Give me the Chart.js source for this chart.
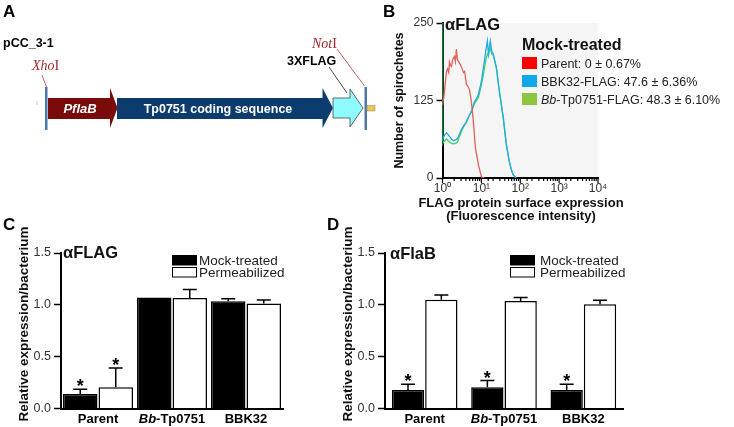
<!DOCTYPE html>
<html><head><meta charset="utf-8">
<script src="https://cdn.jsdelivr.net/npm/chart.js@4.4.0/dist/chart.umd.min.js"></script>
<style>
html,body{margin:0;padding:0;background:#fff;}
#wrap{position:relative;width:734px;height:427px;overflow:hidden;}
canvas{position:absolute;}
svg{position:absolute;left:0;top:0;}
</style></head><body>
<div id="wrap">
<canvas id="cB" width="351" height="227" style="left:383px;top:0px;width:351px;height:227px"></canvas>
<canvas id="cC" width="300" height="217" style="left:0px;top:210px;width:300px;height:217px"></canvas>
<canvas id="cD" width="307" height="217" style="left:327px;top:210px;width:307px;height:217px"></canvas>
<svg width="734" height="427" font-family="'Liberation Sans', Arial, sans-serif">
  <!-- panel letters -->
  <text x="3" y="17" font-size="17" font-weight="bold">A</text>
  <text x="383" y="17" font-size="17" font-weight="bold">B</text>
  <text x="3" y="230" font-size="17" font-weight="bold">C</text>
  <text x="327" y="230" font-size="17" font-weight="bold">D</text>
  <!-- panel A construct diagram -->
  <text x="3" y="47" font-size="12.5" font-weight="bold">pCC_3-1</text>
  <text x="32" y="70" font-family="'Liberation Serif','Times New Roman',serif" font-size="14" fill="#a3282b"><tspan font-style="italic">Xho</tspan>I</text>
  <line x1="42" y1="75" x2="46.5" y2="87" stroke="#b03a3a" stroke-width="0.8"/>
  <line x1="37" y1="101" x2="37" y2="105" stroke="#ccc" stroke-width="1"/>
  <rect x="45" y="87" width="2.5" height="43" fill="#4a78aa"/>
  <polygon points="48,98 110,98 110,88 117.5,108 110,128 110,119 48,119" fill="#7a0b0b"/>
  <text x="80" y="112.5" text-anchor="middle" font-size="13" font-weight="bold" font-style="italic" fill="#fff">PflaB</text>
  <polygon points="117,98 322.5,98 322.5,88 333,108 322.5,128 322.5,119 117,119" fill="#0c3c6e"/>
  <text x="218" y="113" text-anchor="middle" font-size="12.5" font-weight="bold" fill="#fff">Tp0751 coding sequence</text>
  <polygon points="333,98 350,98 350,89 363,108 350,127 350,118 333,118" fill="#8ffcff" stroke="#444" stroke-width="0.8"/>
  <rect x="364.5" y="87" width="2.5" height="43" fill="#4a78aa"/>
  <rect x="367" y="105.5" width="8" height="5.5" fill="#e8c65a" stroke="#9a8a50" stroke-width="0.5"/>
  <text x="287" y="64.5" font-size="12.5" font-weight="bold">3XFLAG</text>
  <line x1="329" y1="67" x2="347" y2="93" stroke="#333" stroke-width="0.9"/>
  <text x="312" y="48" font-family="'Liberation Serif','Times New Roman',serif" font-size="14" fill="#a3282b"><tspan font-style="italic">Not</tspan>I</text>
  <line x1="337" y1="49" x2="364.5" y2="86" stroke="#b03a3a" stroke-width="0.8"/>
  <!-- panel B annotations -->
  <text x="445" y="30" font-size="16.5" font-weight="bold" fill="#111">αFLAG</text>
  <text x="522" y="50" font-size="16" font-weight="bold" fill="#111">Mock-treated</text>
  <rect x="522" y="57" width="15" height="12" fill="#ff0000"/>
  <rect x="522" y="75" width="15" height="12" fill="#10a8e8"/>
  <rect x="522" y="93" width="15" height="12" fill="#8cc63f"/>
  <text x="541" y="67.5" font-size="12.5" fill="#222">Parent: 0 ± 0.67%</text>
  <text x="541" y="85.5" font-size="12.5" fill="#222">BBK32-FLAG: 47.6 ± 6.36%</text>
  <text x="541" y="103.5" font-size="12.5" fill="#222"><tspan font-style="italic">Bb</tspan>-Tp0751-FLAG: 48.3 ± 6.10%</text>
  <text x="521" y="206.5" text-anchor="middle" font-size="13" font-weight="bold" fill="#111">FLAG protein surface expression</text>
  <text x="521" y="219.5" text-anchor="middle" font-size="13" font-weight="bold" fill="#111">(Fluorescence intensity)</text>
  <!-- panel C annotations -->
  <text transform="translate(23,324) rotate(-90)" x="0" y="4.9" text-anchor="middle" font-size="13.5" font-weight="bold" fill="#111">Relative expression/bacterium</text>
  <text x="63" y="258" font-size="16.5" font-weight="bold" fill="#111">αFLAG</text>
  <rect x="172.5" y="255.5" width="24" height="9.5" fill="#000" stroke="#000" stroke-width="1"/>
  <rect x="172.5" y="267.5" width="24" height="9.5" fill="#fff" stroke="#000" stroke-width="1"/>
  <text x="199" y="265" font-size="13.5" fill="#222">Mock-treated</text>
  <text x="199" y="277" font-size="13.5" fill="#222">Permeabilized</text>
  <!-- panel D annotations -->
  <text transform="translate(347,324) rotate(-90)" x="0" y="4.9" text-anchor="middle" font-size="13.5" font-weight="bold" fill="#111">Relative expression/bacterium</text>
  <text x="390" y="259" font-size="16.5" font-weight="bold" fill="#111">αFlaB</text>
  <rect x="510.5" y="255.5" width="24" height="9.5" fill="#000" stroke="#000" stroke-width="1"/>
  <rect x="510.5" y="267.5" width="24" height="9.5" fill="#fff" stroke="#000" stroke-width="1"/>
  <text x="540" y="265" font-size="13.5" fill="#222">Mock-treated</text>
  <text x="540" y="277" font-size="13.5" fill="#222">Permeabilized</text>
</svg>
</div>
<script>
const FONT = "'Liberation Sans', Arial, Helvetica, sans-serif";
Chart.defaults.font.family = FONT;
Chart.defaults.color = '#222';

// ---- Panel B: flow cytometry histograms (fluorescence intensity vs count) ----
const parentX = [1.0, 1.08, 1.2, 1.27, 1.35, 1.45, 1.51, 1.6, 1.7, 1.85, 2.03, 2.15, 2.28, 2.4, 2.57, 2.89, 3.2, 3.46, 3.7, 4.13, 4.5, 4.92, 5.53, 6.23, 7.0, 8.4, 10, 12];
const parentY = [118, 130, 158, 172, 176, 170, 187, 182, 180, 192, 196, 188, 208, 192, 188, 183, 176, 170, 172, 151, 148, 143, 123, 91, 49, 21, 2, 0];
const bbk32X = [1.0, 1.04, 1.15, 1.27, 1.4, 1.51, 1.7, 1.91, 2.2, 2.42, 2.7, 3.07, 3.5, 4.13, 4.8, 5.53, 6.62, 7.5, 8.4, 10, 11.9, 13.0, 14.3, 15.2, 16.1, 17.0, 18.5, 20.3, 22, 24.2, 29.0, 36.6, 43.8, 52.5, 60, 66, 79];
const bbk32Y = [60, 65, 70, 73, 70, 67, 63, 60, 62, 63, 70, 78, 84, 91, 100, 107, 123, 128, 135, 156, 188, 205, 221, 200, 211, 221, 205, 200, 190, 179, 140, 97, 54, 26, 12, 5, 0];
const tp0751X = [1.01, 1.01, 1.04, 1.15, 1.27, 1.4, 1.51, 1.7, 1.91, 2.2, 2.42, 2.7, 3.07, 3.5, 4.13, 4.8, 5.53, 6.62, 7.5, 8.4, 10, 11.9, 13.0, 14.3, 15.2, 16.1, 17.0, 18.5, 20.3, 22, 24.2, 29.0, 36.6, 43.8, 52.5, 60, 66, 79];
const tp0751Y = [250, 55, 57, 60, 63, 60, 58, 56, 55, 56, 58, 66, 75, 83, 90, 100, 107, 120, 125, 130, 150, 175, 190, 200, 198, 205, 210, 200, 198, 188, 178, 140, 97, 55, 26, 12, 5, 0];
const histYMax = 250;
const histYStep = 125;
const histXMin = 1, histXMax = 10000;
const supDigits = ['⁰','¹','²','³','⁴'];

// ---- Panel C / D: relative expression per bacterium ----
const categories = ['Parent', 'Bb-Tp0751', 'BBK32'];
const flagMock    = [0.14, 1.07, 1.034];
const flagMockErr = [0.045, 0, 0.025];
const flagPerm    = [0.205, 1.065, 1.012];
const flagPermErr = [0.185, 0.082, 0.035];
const flagMockSig = [true, false, false];
const flagPermSig = [true, false, false];
const flabMock    = [0.179, 0.205, 0.179];
const flabMockErr = [0.055, 0.065, 0.055];
const flabPerm    = [1.05, 1.037, 1.005];
const flabPermErr = [0.046, 0.033, 0.039];
const flabMockSig = [true, true, true];
const flabPermSig = [false, false, false];

function isPow10(v){ const l = Math.log10(v); return Math.abs(l - Math.round(l)) < 1e-9; }
function pts(xs, ys){ return xs.map((x, i) => ({x: x, y: ys[i]})); }

const bgPlugin = {
  id: 'bg',
  beforeDraw(chart){
    const a = chart.chartArea, ctx = chart.ctx;
    ctx.save(); ctx.fillStyle = '#f5f5f5';
    ctx.fillRect(a.left, a.top, a.right - a.left, a.bottom - a.top);
    ctx.restore();
  }
};
const logTickPlugin = {
  id: 'logticks',
  afterDraw(chart){
    const xs = chart.scales.x, ctx = chart.ctx;
    ctx.save(); ctx.strokeStyle = '#000'; ctx.lineWidth = 1.2;
    xs.ticks.forEach(t => {
      const px = xs.getPixelForValue(t.value);
      const len = isPow10(t.value) ? 5 : 3;
      ctx.beginPath(); ctx.moveTo(px, xs.top); ctx.lineTo(px, xs.top + len); ctx.stroke();
    });
    ctx.restore();
  }
};

new Chart(document.getElementById('cB'), {
  type: 'line',
  data: { datasets: [
    {label: 'Parent', data: pts(parentX, parentY), borderColor: '#e0605a', borderWidth: 1.3, pointRadius: 0, tension: 0, fill: false},
    {label: 'BBK32-FLAG', data: pts(bbk32X, bbk32Y), borderColor: '#27a9e1', borderWidth: 1.3, pointRadius: 0, tension: 0, fill: false},
    {label: 'Bb-Tp0751-FLAG', data: pts(tp0751X, tp0751Y), borderColor: '#39d36b', borderWidth: 1.3, pointRadius: 0, tension: 0, fill: false}
  ]},
  options: {
    responsive: false, animation: false, devicePixelRatio: 1,
    layout: {padding: {left: 0, top: 23, right: 136, bottom: 0}},
    plugins: {legend: {display: false}, tooltip: {enabled: false}},
    scales: {
      x: {
        type: 'logarithmic', min: histXMin, max: histXMax,
        afterFit: s => { s.height = 49; },
        border: {display: true, color: '#000', width: 2},
        grid: {display: true, drawOnChartArea: false, drawTicks: false},
        ticks: {autoSkip: false, maxRotation: 0, padding: 3, font: {size: 12}, color: '#333',
          callback: v => isPow10(v) ? '10' + supDigits[Math.round(Math.log10(v))] : ''},
        title: {display: false}
      },
      y: {
        min: 0, max: histYMax,
        afterFit: s => { s.width = 59.5; },
        ticks: {stepSize: histYStep, padding: 3, font: {size: 12}, color: '#333'},
        border: {display: true, color: '#000', width: 2},
        grid: {drawOnChartArea: false, tickLength: 6, tickColor: '#000', tickWidth: 1.5},
        title: {display: true, text: 'Number of spirochetes', font: {size: 12.5, weight: 'bold'}, color: '#111', padding: {top: 9.5, bottom: 0}}
      }
    }
  },
  plugins: [bgPlugin, logTickPlugin]
});

const errorBarPlugin = {
  id: 'errbars',
  afterDatasetsDraw(chart){
    const ctx = chart.ctx, ys = chart.scales.y;
    chart.data.datasets.forEach((ds, di) => {
      const meta = chart.getDatasetMeta(di);
      meta.data.forEach((bar, i) => {
        const v = ds.data[i], e = (ds.errors || [])[i] || 0;
        const top = ys.getPixelForValue(v + e);
        ctx.save(); ctx.strokeStyle = '#000'; ctx.lineWidth = 1.5;
        if (e > 0) {
          ctx.beginPath(); ctx.moveTo(bar.x, bar.y); ctx.lineTo(bar.x, top);
          ctx.moveTo(bar.x - 7, top); ctx.lineTo(bar.x + 7, top); ctx.stroke();
        }
        if (ds.sig && ds.sig[i]) {
          ctx.fillStyle = '#000'; ctx.font = 'bold 18px ' + FONT;
          ctx.textAlign = 'center'; ctx.textBaseline = 'alphabetic';
          ctx.fillText('*', bar.x, top + 3);
        }
        ctx.restore();
      });
    });
  }
};
const catLabelPlugin = {
  id: 'catlabels',
  afterDraw(chart){
    const xs = chart.scales.x, ctx = chart.ctx;
    const by = xs.top + 14.2;
    chart.data.labels.forEach((lab, i) => {
      const cx = xs.getPixelForValue(i);
      const parts = lab.startsWith('Bb-') ? [['Bb', 'italic bold'], [lab.slice(2), 'bold']] : [[lab, 'bold']];
      ctx.save(); ctx.fillStyle = '#000'; ctx.textAlign = 'left'; ctx.textBaseline = 'alphabetic';
      const widths = parts.map(p => { ctx.font = p[1] + ' 13px ' + FONT; return ctx.measureText(p[0]).width; });
      let x = cx - widths.reduce((a, b) => a + b, 0) / 2;
      parts.forEach((p, k) => { ctx.font = p[1] + ' 13px ' + FONT; ctx.fillText(p[0], x, by); x += widths[k]; });
      ctx.restore();
    });
  }
};

function barChart(id, mock, mockErr, mockSig, perm, permErr, permSig, yWidth, rightPad, catPct){
  return new Chart(document.getElementById(id), {
    type: 'bar',
    data: {labels: categories, datasets: [
      {label: 'Mock-treated', data: mock, errors: mockErr, sig: mockSig, backgroundColor: '#000', borderColor: '#000', borderWidth: 1.5},
      {label: 'Permeabilized', data: perm, errors: permErr, sig: permSig, backgroundColor: '#fff', borderColor: '#000', borderWidth: 1.5}
    ]},
    options: {
      responsive: false, animation: false, devicePixelRatio: 1,
      datasets: {bar: {categoryPercentage: catPct, barPercentage: 0.97}},
      layout: {padding: {left: 0, top: 43, right: rightPad, bottom: 0}},
      plugins: {legend: {display: false}, tooltip: {enabled: false}},
      scales: {
        x: {afterFit: s => { s.height = 18.5; }, ticks: {display: false}, grid: {display: false},
            border: {display: true, color: '#000', width: 2}},
        y: {min: 0, max: 1.5, afterFit: s => { s.width = yWidth; },
            ticks: {stepSize: 0.5, callback: v => Number(v).toFixed(1), font: {size: 12.5}, color: '#333', padding: 3},
            grid: {drawOnChartArea: false, tickLength: 7, tickColor: '#000', tickWidth: 1.5},
            border: {display: true, color: '#000', width: 2},
            title: {display: false}}
      }
    },
    plugins: [errorBarPlugin, catLabelPlugin]
  });
}
barChart('cC', flagMock, flagMockErr, flagMockSig, flagPerm, flagPermErr, flagPermSig, 61, 17, 0.96);
barChart('cD', flabMock, flabMockErr, flabMockSig, flabPerm, flabPermErr, flabPermSig, 58, 11, 0.84);
</script>
</body></html>
